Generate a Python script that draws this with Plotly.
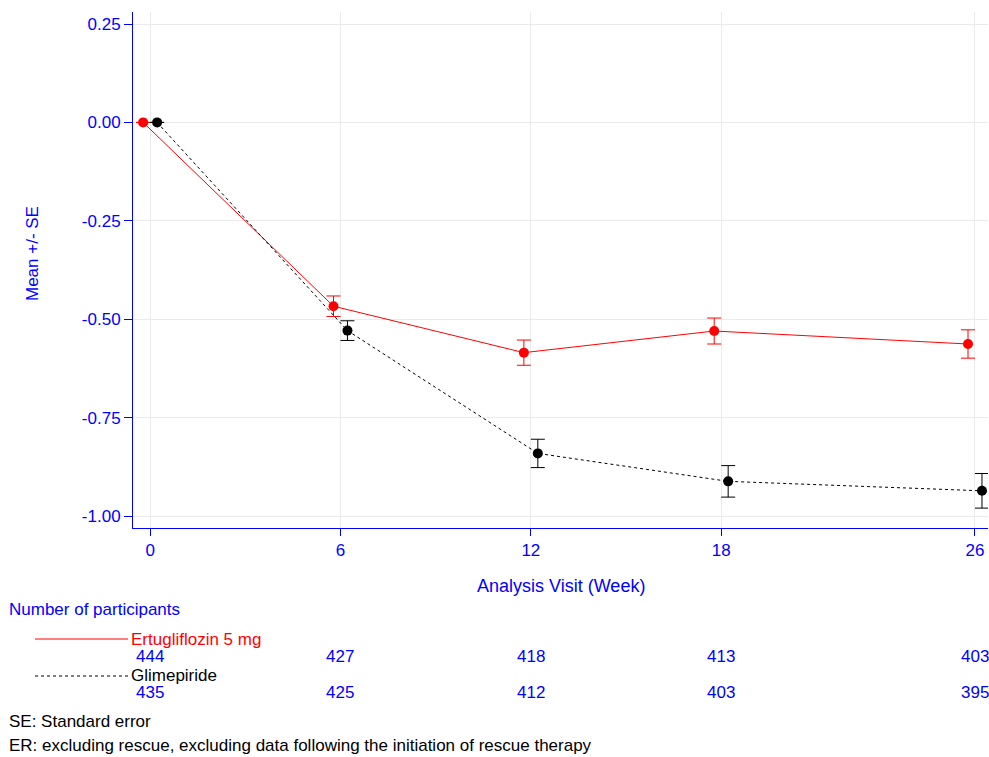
import plotly.graph_objects as go

weeks = [0, 6, 12, 18, 26]
ertu_mean = [0.0, -0.467, -0.585, -0.530, -0.563]
ertu_se = [0.0, 0.026, 0.032, 0.033, 0.036]
glim_mean = [0.0, -0.529, -0.841, -0.912, -0.936]
glim_se = [0.0, 0.025, 0.036, 0.040, 0.044]
ertu_n = [444, 427, 418, 413, 403]
glim_n = [435, 425, 412, 403, 395]
offset = 0.22

BLUE = "#0000FF"
FONT = "Liberation Sans, Arial, sans-serif"

W, H = 989, 757
ML, MR, MT, MB = 133, 1, 12, 229
PH = H - MT - MB


def py(p):
    """pixel y (from top) -> paper y"""
    return (H - MB - p) / PH


def px(p):
    return (p - ML) / (W - ML - MR)


fig = go.Figure()

fig.add_trace(go.Scatter(
    x=[w - offset for w in weeks], y=ertu_mean,
    mode="lines+markers",
    line=dict(color="red", width=1),
    marker=dict(color="red", size=10),
    error_y=dict(type="data", array=ertu_se, visible=True, color="red", thickness=1, width=7),
    name="Ertugliflozin 5 mg", showlegend=False,
))
fig.add_trace(go.Scatter(
    x=[w + offset for w in weeks], y=glim_mean,
    mode="lines+markers",
    line=dict(color="black", width=1, dash="dot"),
    marker=dict(color="black", size=10),
    error_y=dict(type="data", array=glim_se, visible=True, color="black", thickness=1, width=7),
    name="Glimepiride", showlegend=False,
))

annotations = []
for w, n in zip(weeks, ertu_n):
    annotations.append(dict(x=w, y=py(656), xref="x", yref="paper", text=str(n),
                            showarrow=False, font=dict(color=BLUE, size=17, family=FONT),
                            xanchor="center", yanchor="middle"))
for w, n in zip(weeks, glim_n):
    annotations.append(dict(x=w, y=py(692), xref="x", yref="paper", text=str(n),
                            showarrow=False, font=dict(color=BLUE, size=17, family=FONT),
                            xanchor="center", yanchor="middle"))

annotations += [
    dict(x=px((ML + W - MR) / 2), y=py(586), xref="paper", yref="paper", text="Analysis Visit (Week)",
         showarrow=False, font=dict(color=BLUE, size=18, family=FONT), xanchor="center", yanchor="middle"),
    dict(x=px(7), y=py(609), xref="paper", yref="paper", text="Number of participants",
         showarrow=False, font=dict(color=BLUE, size=17, family=FONT), xanchor="left", yanchor="middle"),
    dict(x=px(129), y=py(639), xref="paper", yref="paper", text="Ertugliflozin 5 mg",
         showarrow=False, font=dict(color="red", size=17, family=FONT), xanchor="left", yanchor="middle"),
    dict(x=px(129), y=py(675), xref="paper", yref="paper", text="Glimepiride",
         showarrow=False, font=dict(color="black", size=17, family=FONT), xanchor="left", yanchor="middle"),
    dict(x=px(7), y=py(721), xref="paper", yref="paper", text="SE: Standard error",
         showarrow=False, font=dict(color="black", size=17, family=FONT), xanchor="left", yanchor="middle"),
    dict(x=px(7), y=py(745), xref="paper", yref="paper",
         text="ER: excluding rescue, excluding data following the initiation of rescue therapy",
         showarrow=False, font=dict(color="black", size=17, family=FONT), xanchor="left", yanchor="middle"),
    dict(x=px(33), y=py(254), xref="paper", yref="paper", text="Mean +/- SE", textangle=-90,
         showarrow=False, font=dict(color=BLUE, size=17, family=FONT), xanchor="center", yanchor="middle"),
]

shapes = [
    dict(type="line", xref="paper", yref="paper", x0=px(35), x1=px(128), y0=py(639), y1=py(639),
         line=dict(color="red", width=1)),
    dict(type="line", xref="paper", yref="paper", x0=px(35), x1=px(128), y0=py(676), y1=py(676),
         line=dict(color="black", width=1, dash="dot")),
]

fig.update_layout(
    width=W, height=H,
    margin=dict(l=ML, r=MR, t=MT, b=MB),
    plot_bgcolor="white", paper_bgcolor="white",
    font=dict(family=FONT, color=BLUE, size=17),
    annotations=annotations, shapes=shapes,
    showlegend=False,
)
fig.update_xaxes(
    range=[-0.54, 26.41], tickvals=weeks, ticktext=[str(w) for w in weeks],
    showgrid=True, gridcolor="#ebebeb", gridwidth=1, zeroline=False,
    showline=True, linecolor=BLUE, linewidth=1,
    ticks="outside", ticklen=7, tickcolor=BLUE,
    tickfont=dict(color=BLUE, size=17, family=FONT),
)
fig.update_yaxes(
    range=[-1.0305, 0.2805], tickvals=[0.25, 0.0, -0.25, -0.5, -0.75, -1.0],
    ticktext=["0.25", "0.00", "-0.25", "-0.50", "-0.75", "-1.00"],
    showgrid=True, gridcolor="#ebebeb", gridwidth=1, zeroline=False,
    showline=True, linecolor=BLUE, linewidth=1,
    ticks="outside", ticklen=8, tickcolor=BLUE,
    tickfont=dict(color=BLUE, size=17, family=FONT),
)

fig.write_html("out.html")
